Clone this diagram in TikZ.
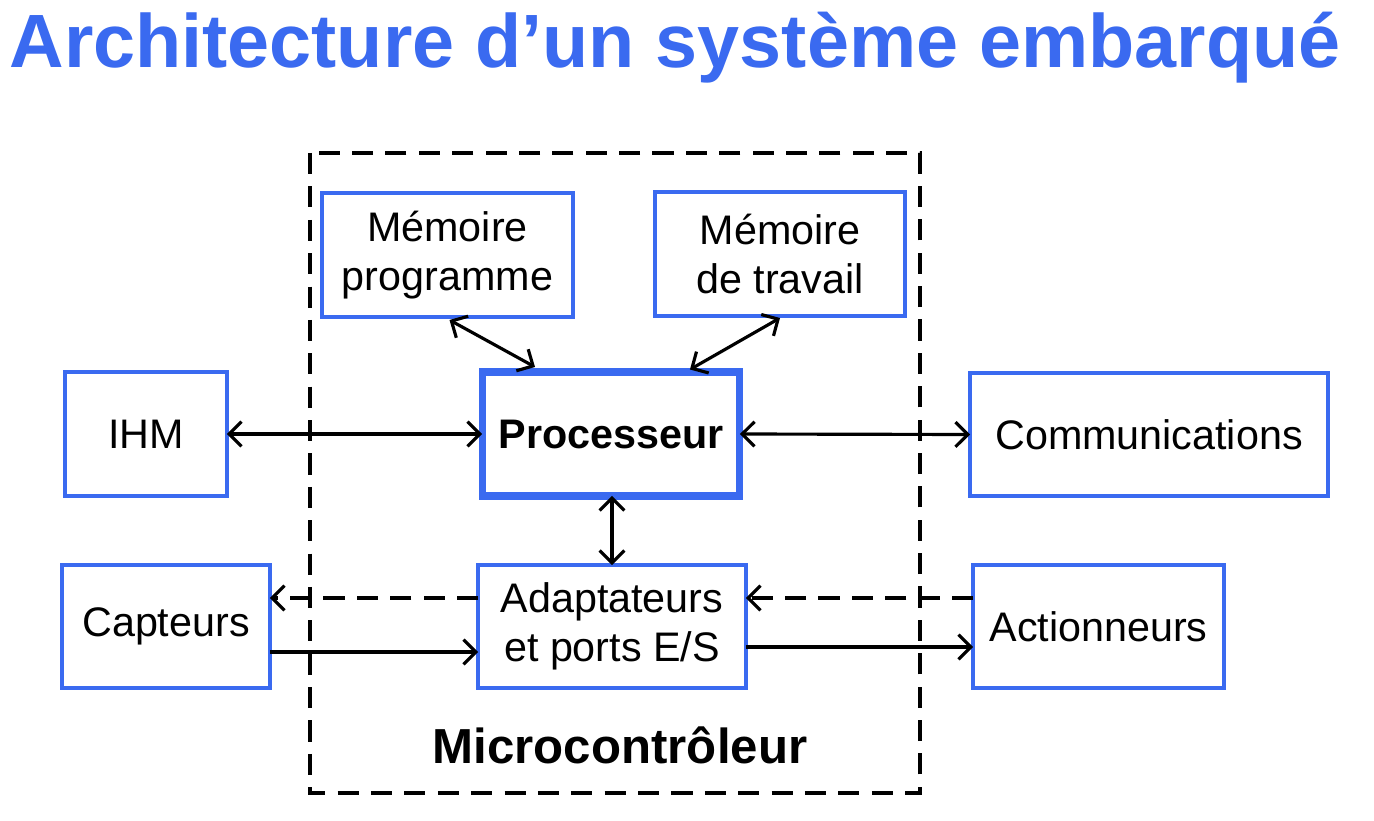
\documentclass[tikz,border=0pt]{standalone}
\usepackage{fontspec}
\setmainfont{Liberation Sans}
\usetikzlibrary{arrows.meta}
\definecolor{bl}{HTML}{3A6AF0}
\begin{document}
\begin{tikzpicture}[x=0.02cm,y=-0.02cm,
 box/.style={draw=bl,line width=2.4pt,align=center,font=\fontsize{23.5}{28}\selectfont,inner sep=0pt,outer sep=0pt},
 tip/.style={>={Straight Barb[length=7pt,width=14pt,line width=1.8pt]}},
 arr/.style={line width=1.8pt,tip,->},
 darr/.style={line width=1.8pt,tip,<->},
 dsh/.style={dash pattern=on 12pt off 7pt}]
\useasboundingbox (0,0) rectangle (1374,821);
\node[text=bl,font=\bfseries\fontsize{43}{48}\selectfont] (title) at (675,48) {Architecture d’un système embarqué};
\draw[dsh,line width=1.8pt] (310,153) rectangle (920,793);
\node[font=\bfseries\fontsize{28}{32}\selectfont] (mc) at (620,745) {Microcontrôleur};
\node[box,minimum width=5.02cm,minimum height=2.48cm] (mp) at (447.5,255) {Mémoire\\programme};
\node[box,minimum width=5cm,minimum height=2.48cm] (mt) at (780,254) {Mémoire\\de travail};
\node[box,minimum width=3.24cm,minimum height=2.48cm] (ihm) at (146,434) {IHM};
\node[box,line width=4pt,minimum width=5.16cm,minimum height=2.48cm,font=\bfseries\fontsize{23.5}{28}\selectfont] (proc) at (611,434) {Processeur};
\node[box,minimum width=7.16cm,minimum height=2.46cm] (com) at (1149,434.5) {Communications};
\node[box,minimum width=4.16cm,minimum height=2.46cm] (cap) at (166,626.5) {Capteurs};
\node[box,minimum width=5.36cm,minimum height=2.46cm] (ad) at (612,626.5) {Adaptateurs\\et ports E/S};
\node[box,minimum width=5.02cm,minimum height=2.46cm] (act) at (1098.5,626.5) {Actionneurs};
\draw[darr] (mp.south) ++(2,3) -- ([xshift=-1.52cm,yshift=0.1cm]proc.north);
\draw[darr] (mt.south) ++(0,2) -- ([xshift=1.58cm,yshift=0.05cm]proc.north);
\draw[darr] (ihm.east) -- (proc.west);
\draw[darr] (proc.east) -- (com.west);
\draw[darr] (proc.south) ++(1,0) -- (ad.north);
\draw[arr,dsh] ([yshift=0.57cm]ad.west) -- ([yshift=0.57cm]cap.east);
\draw[arr,dsh] ([yshift=0.57cm]act.west) -- ([yshift=0.57cm]ad.east);
\draw[arr] ([yshift=-0.51cm]cap.east) -- ([yshift=-0.51cm]ad.west);
\draw[arr] ([yshift=-0.41cm]ad.east) -- ([yshift=-0.41cm]act.west);
\end{tikzpicture}
\end{document}
